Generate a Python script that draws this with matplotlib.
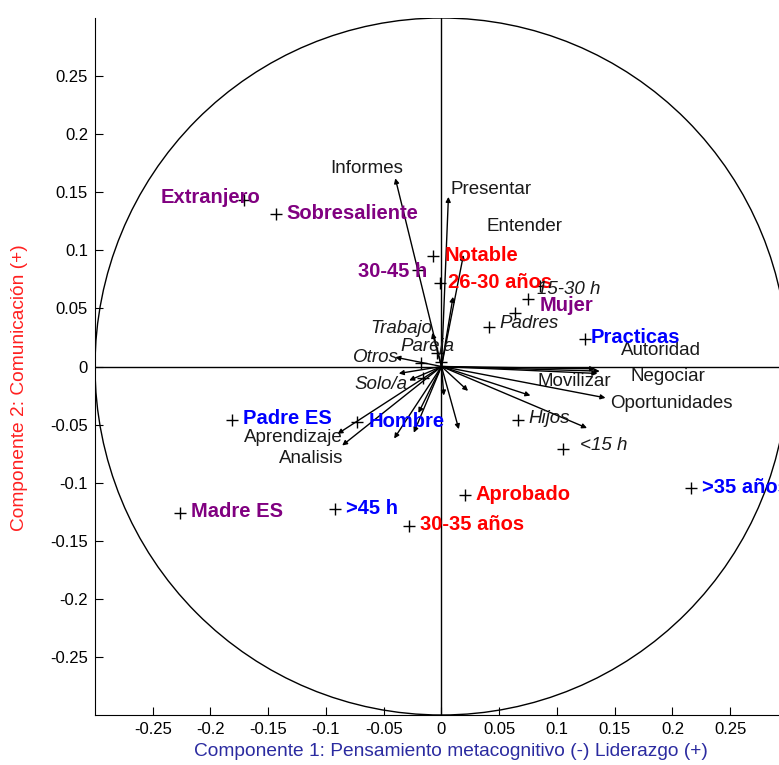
import numpy as np
import matplotlib
matplotlib.use("Agg")
import matplotlib.pyplot as plt
from matplotlib.patches import Circle

plt.rcParams['font.family'] = ['Liberation Sans', 'DejaVu Sans']

# variables (arrows): tip coordinates on the two components
var_names = ['Informes', 'Presentar', 'Entender', '', '', '', '',
             'Autoridad', 'Negociar', 'Movilizar', 'Oportunidades',
             '', '', '', '', '', 'Aprendizaje', 'Analisis', '', '', '', '']
var_x = [-0.040, 0.006, 0.019, 0.010, -0.008, -0.040, -0.037,
         0.133, 0.137, 0.135, 0.142,
         0.077, 0.126, 0.023, 0.015, 0.002, -0.090, -0.086, -0.041, -0.024, -0.020, -0.028]
var_y = [0.162, 0.146, 0.096, 0.060, 0.029, 0.008, -0.006,
         -0.002, -0.004, -0.006, -0.027,
         -0.025, -0.053, -0.021, -0.054, -0.025, -0.058, -0.068, -0.062, -0.057, -0.040, -0.012]

# supplementary categories (crosses)
sup_names = ['Extranjero', 'Sobresaliente', 'Notable', '30-45 h', '26-30 años',
             '15-30 h', 'Mujer', '', 'Padres', 'Practicas', 'Trabajo', 'Pareja',
             'Otros', 'Solo/a', 'Padre ES', 'Hombre', 'Madre ES', '>45 h',
             '30-35 años', 'Aprobado', '>35 años', 'Hijos', '<15 h']
sup_x = [-0.171, -0.1435, -0.007, -0.020, -0.001,
         0.085, 0.075, 0.064, 0.041, 0.124, -0.004, 0.000,
         -0.018, -0.016, -0.181, -0.073, -0.226, -0.092,
         -0.0285, 0.020, 0.216, 0.066, 0.105]
sup_y = [0.143, 0.131, 0.095, 0.083, 0.072,
         0.069, 0.058, 0.046, 0.034, 0.024, 0.012, 0.004,
         0.003, -0.010, -0.046, -0.048, -0.126, -0.123,
         -0.137, -0.111, -0.105, -0.046, -0.071]
sup_group = ['p', 'p', 'r', 'p', 'r',
             'i', 'p', 'i', 'i', 'b', 'i', 'i',
             'i', 'i', 'b', 'b', 'p', 'b',
             'r', 'r', 'b', 'i', 'i']

group_style = {
    'p': dict(color='#800080', fontweight='bold', fontsize=14.5),
    'r': dict(color='#ff0000', fontweight='bold', fontsize=14.5),
    'b': dict(color='#0000ff', fontweight='bold', fontsize=14.5),
    'i': dict(color='#1a1a1a', fontstyle='italic', fontsize=13.5),
}

# label offsets in pixels from the mark, plus horizontal alignment
var_offset = {
    'Informes': (-29, 10, 'center'), 'Presentar': (2, 7, 'left'),
    'Entender': (23, 28, 'left'), 'Autoridad': (26, 18, 'left'),
    'Negociar': (31, -5, 'left'), 'Movilizar': (-60, -8, 'left'),
    'Oportunidades': (5, -6, 'left'), 'Aprendizaje': (5, -4, 'right'),
    'Analisis': (1, -13, 'right'),
}
sup_offset = {
    'Extranjero': (16, 3, 'right'), '30-45 h': (9, -1, 'right'),
    '15-30 h': (-3, -3, 'left'), 'Mujer': (12, -6, 'left'),
    'Padres': (11, 4, 'left'), 'Trabajo': (-67, 24, 'left'),
    'Pareja': (-41, 15, 'left'), 'Otros': (-68, 6, 'left'),
    'Solo/a': (-69, -6, 'left'), '<15 h': (17, 3, 'left'),
    'Practicas': (6, 1, 'left'), '26-30 años': (8, 0, 'left'),
}

fig = plt.figure(figsize=(7.79, 7.65), dpi=100)
ax = fig.add_axes([95 / 779, 50 / 765, 693 / 779, 697 / 765])
ax.set_xlim(-0.3, 0.3)
ax.set_ylim(-0.3, 0.3)

ax.add_patch(Circle((0, 0), 0.3, fill=False, color='black', lw=1))
ax.axhline(0, color='black', lw=1)
ax.axvline(0, color='black', lw=1)

for name, x, y in zip(var_names, var_x, var_y):
    ax.annotate('', xy=(x, y), xytext=(0, 0),
                arrowprops=dict(arrowstyle='-|>', color='black', lw=1,
                                mutation_scale=7, shrinkA=0, shrinkB=0))
    if name in var_offset:
        dx, dy, ha = var_offset[name]
        ax.annotate(name, (x, y), xytext=(dx, dy), textcoords='offset pixels',
                    ha=ha, va='center', fontsize=13.5, color='#1a1a1a')

ax.plot(sup_x, sup_y, '+', color='black', markersize=9, mew=1)
for name, x, y, g in zip(sup_names, sup_x, sup_y, sup_group):
    if not name:
        continue
    dx, dy, ha = sup_offset.get(name, (11, 1, 'left'))
    ax.annotate(name, (x, y), xytext=(dx, dy), textcoords='offset pixels',
                ha=ha, va='center', **group_style[g])

ax.spines['top'].set_visible(False)
ax.spines['right'].set_visible(False)
ax.set_xticks(np.arange(-0.25, 0.26, 0.05))
ax.set_yticks(np.arange(-0.25, 0.26, 0.05))
ax.set_xticklabels(['-0.25', '-0.2', '-0.15', '-0.1', '-0.05', '0',
                    '0.05', '0.1', '0.15', '0.2', '0.25'])
ax.set_yticklabels(['-0.25', '-0.2', '-0.15', '-0.1', '-0.05', '0',
                    '0.05', '0.1', '0.15', '0.2', '0.25'])
ax.tick_params(direction='in', length=6, labelsize=12, pad=5)

fig.text(451 / 779, 1 - 752 / 765, 'Componente 1: Pensamiento metacognitivo (-) Liderazgo (+)',
         ha='center', va='center', fontsize=13.8, color='#2b2ba0')
fig.text(20 / 779, 1 - 388 / 765, 'Componente 2: Comunicación (+)',
         ha='center', va='center', rotation=90, fontsize=13.8, color='#ff2020')

fig.savefig('out.png', dpi=100)
